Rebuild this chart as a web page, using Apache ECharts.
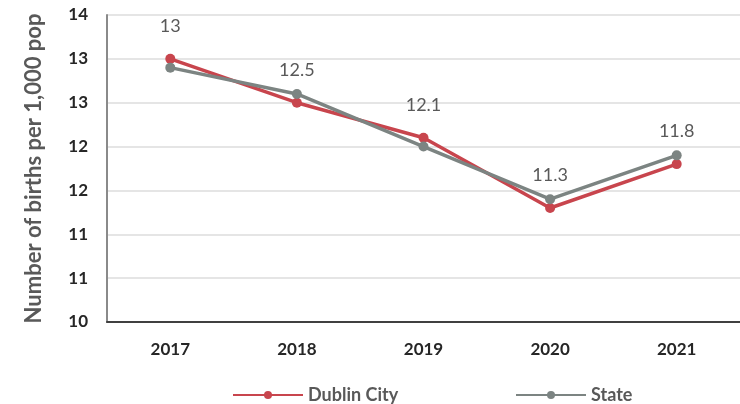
<!DOCTYPE html>
<html>
<head>
<meta charset="utf-8">
<script src="https://cdn.jsdelivr.net/npm/echarts@6/dist/echarts.min.js"></script>
<style>html,body{margin:0;padding:0;background:#fff}#c{width:740px;height:404px}</style>
</head>
<body>
<div id="c"></div>
<script>
const years = ['2017', '2018', '2019', '2020', '2021'];
const dublinCity = [13.0, 12.5, 12.1, 11.3, 11.8];
const state = [12.9, 12.6, 12.0, 11.4, 11.9];
const yMin = 10, yMax = 13.5, yStep = 0.5;

const FONT = 'Lato, "Open Sans", sans-serif';
const RED = '#c8454d';
const GREY = '#7c8482';

const chart = echarts.init(document.getElementById('c'), null, {renderer: 'canvas'});
chart.setOption({
  animation: false,
  backgroundColor: '#fff',
  textStyle: {fontFamily: FONT},
  grid: {left: 107, top: 15, bottom: 82, right: -12},
  xAxis: {
    type: 'category',
    data: years,
    boundaryGap: true,
    axisLine: {show: true, lineStyle: {color: '#404040', width: 2}},
    axisTick: {show: false},
    axisLabel: {margin: 19, fontSize: 17, fontWeight: 'bold', color: '#262626', fontFamily: FONT}
  },
  yAxis: {
    type: 'value',
    min: yMin, max: yMax, interval: yStep,
    name: 'Number of births per 1,000 pop',
    nameLocation: 'middle',
    nameGap: 62,
    nameTextStyle: {fontSize: 22, fontWeight: 'bold', color: '#595959', fontFamily: FONT},
    axisLine: {show: true, lineStyle: {color: '#8a8a8a', width: 2}},
    axisTick: {show: false},
    axisLabel: {
      margin: 19, fontSize: 17, fontWeight: 'bold', color: '#262626', fontFamily: FONT,
      formatter: v => String(Math.round(v))
    },
    splitLine: {show: true, lineStyle: {color: '#dcdcdc', width: 1.5}}
  },
  legend: [
    {data: ['Dublin City'], left: 232, top: 386, padding: 0, itemWidth: 70, itemHeight: 10, itemGap: 10,
     textStyle: {fontSize: 18, fontWeight: 'bold', color: '#595959', fontFamily: FONT}},
    {data: ['State'], left: 515, top: 386, padding: 0, itemWidth: 70, itemHeight: 10, itemGap: 10,
     textStyle: {fontSize: 18, fontWeight: 'bold', color: '#595959', fontFamily: FONT}}
  ],
  series: [
    {
      name: 'Dublin City', type: 'line', data: dublinCity,
      symbol: 'circle', symbolSize: 10,
      lineStyle: {color: RED, width: 3.5},
      itemStyle: {color: RED},
      label: {show: true, position: 'top', distance: 19, fontSize: 18, color: '#595959', fontFamily: FONT,
              formatter: p => String(p.value)}
    },
    {
      name: 'State', type: 'line', data: state,
      symbol: 'circle', symbolSize: 10,
      lineStyle: {color: GREY, width: 3.5},
      itemStyle: {color: GREY}
    }
  ]
});
</script>
</body>
</html>
